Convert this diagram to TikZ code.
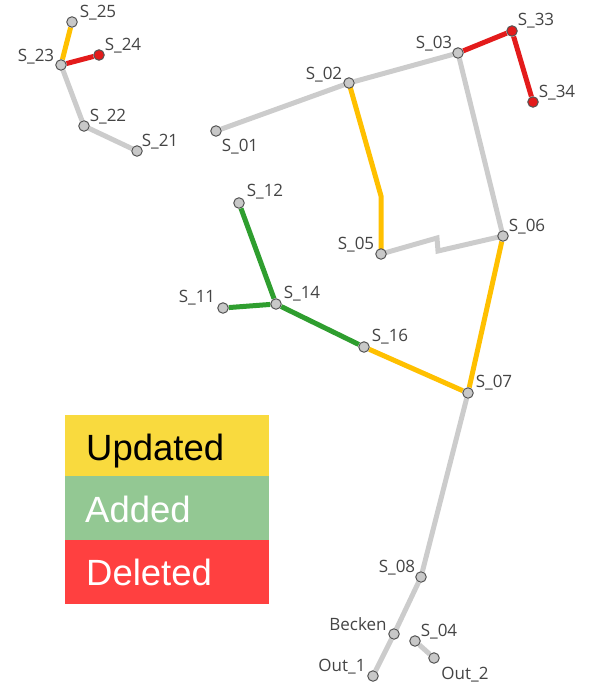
\documentclass[tikz,border=0pt]{standalone}
\usepackage{fontspec}
\setmainfont{Open Sans}
\newfontfamily\legfont{Liberation Sans}
\usetikzlibrary{backgrounds}
\definecolor{edgegray}{HTML}{CCCCCC}
\definecolor{edgeyellow}{HTML}{FFC000}
\definecolor{edgegreen}{HTML}{2F9E2F}
\definecolor{edgered}{HTML}{E31B1B}
\definecolor{nodefill}{HTML}{C8C8C8}
\definecolor{nodeline}{HTML}{555555}
\definecolor{labelcol}{HTML}{444444}
\definecolor{legyellow}{HTML}{F9DA3E}
\definecolor{leggreen}{HTML}{93C893}
\definecolor{legred}{HTML}{FF4040}
\tikzset{
  pt/.style={circle, draw=nodeline, line width=1pt, fill=nodefill, minimum size=10.5pt, inner sep=0pt},
  ptdel/.style={pt, fill=edgered},
  lbl/.style={text=labelcol, font=\fontsize{17}{19}\selectfont, inner sep=0pt},
  eg/.style={draw=edgegray, line width=5pt},
  ey/.style={draw=edgeyellow, line width=5pt},
  egr/.style={draw=edgegreen, line width=5pt},
  er/.style={draw=edgered, line width=5pt},
  legtxt/.style={font=\legfont\fontsize{36.5}{40}\selectfont, inner sep=0pt, anchor=base west},
}
\begin{document}
\begin{tikzpicture}[x=1pt,y=-1pt]
\useasboundingbox (0,0) rectangle (598,685);
% nodes
\node[pt] (s25) at (72,22) {};
\node[ptdel] (s24) at (99,55) {};
\node[pt] (s23) at (61,65) {};
\node[pt] (s22) at (84,126) {};
\node[pt] (s21) at (137,151) {};
\node[pt] (s01) at (216,131) {};
\node[pt] (s02) at (349,83) {};
\node[pt] (s03) at (458,53) {};
\node[ptdel] (s33) at (512,31) {};
\node[ptdel] (s34) at (533,102) {};
\node[pt] (s12) at (239,203) {};
\node[pt] (s14) at (276,304) {};
\node[pt] (s11) at (223,308) {};
\node[pt] (s16) at (364,347) {};
\node[pt] (s05) at (381,254) {};
\node[pt] (s06) at (503,236) {};
\node[pt] (s07) at (468,393) {};
\node[pt] (s08) at (421,577) {};
\node[pt] (becken) at (394,634) {};
\node[pt] (out1) at (373,676) {};
\node[pt] (s04) at (415,641) {};
\node[pt] (out2) at (434,658) {};
\coordinate (bend) at (381,196);
\coordinate (z1) at (437,238);
\coordinate (z2) at (438,251);
% edges
\begin{scope}[on background layer]
\draw[eg] (s23) -- (s22);
\draw[eg] (s22) -- (s21);
\draw[eg] (s01) -- (s02);
\draw[eg] (s02) -- (s03);
\draw[eg] (s03) -- (s06);
\draw[eg, line join=miter] (s05.center) -- (z1) -- (z2) -- (s06.center);
\draw[eg] (s07) -- (s08);
\draw[eg] (s08) -- (becken);
\draw[eg] (becken) -- (out1);
\draw[eg] (s04) -- (out2);
\draw[ey] (s25) -- (s23);
\draw[ey] (s02.center) -- (bend) -- (s05.center);
\draw[ey] (s06) -- (s07);
\draw[ey] (s16) -- (s07);
\draw[er] (s23) -- (s24);
\draw[er] (s03) -- (s33);
\draw[er] (s33) -- (s34);
\draw[egr] (s12) -- (s14);
\draw[egr] (s11) -- (s14);
\draw[egr] (s14) -- (s16);
\end{scope}
% labels
\node[lbl] (l25) at (98,13) {S\_25};
\node[lbl] (l24) at (123,46) {S\_24};
\node[lbl] (l23) at (36,57) {S\_23};
\node[lbl] (l22) at (108,117) {S\_22};
\node[lbl] (l21) at (160,142) {S\_21};
\node[lbl] (l01) at (240,147) {S\_01};
\node[lbl] (l02) at (324,75) {S\_02};
\node[lbl] (l03) at (434,44) {S\_03};
\node[lbl] (l33) at (536,21) {S\_33};
\node[lbl] (l34) at (557,93) {S\_34};
\node[lbl] (l12) at (265,192) {S\_12};
\node[lbl] (l05) at (356,245) {S\_05};
\node[lbl] (l11) at (197,298) {S\_11};
\node[lbl] (l14) at (302,294) {S\_14};
\node[lbl] (l16) at (390,337) {S\_16};
\node[lbl] (l06) at (527,227) {S\_06};
\node[lbl] (l07) at (494,383) {S\_07};
\node[lbl] (l08) at (397,568) {S\_08};
\node[lbl] (lbecken) at (358,624) {Becken};
\node[lbl] (l04) at (439,632) {S\_04};
\node[lbl] (lout1) at (342,667) {Out\_1};
\node[lbl] (lout2) at (465,675) {Out\_2};
% legend
\fill[legyellow] (65,415) rectangle (269,476);
\fill[leggreen] (65,476) rectangle (269,540);
\fill[legred] (65,540) rectangle (269,604);
\node[legtxt, text=black] (lu) at (86,460) {Updated};
\node[legtxt, text=white] (la) at (85,522) {Added};
\node[legtxt, text=white] (ld) at (86,585) {Deleted};
\end{tikzpicture}
\end{document}
